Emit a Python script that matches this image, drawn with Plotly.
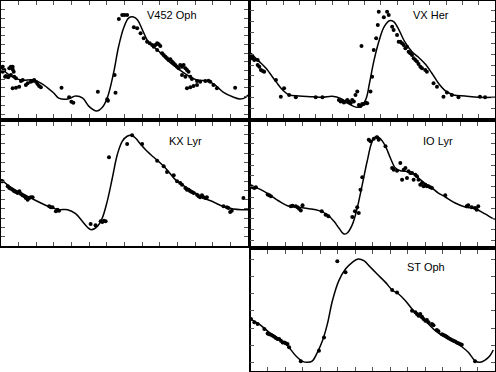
import plotly.graph_objects as go

# phase / relative magnitude, one set per star

# V452 Oph
v452_curve_phase = [0.000, 0.056, 0.113, 0.186, 0.243, 0.299, 0.327, 0.378, 0.423, 0.463, 0.497, 0.542,
                    0.576, 0.604, 0.638, 0.666, 0.695, 0.723, 0.751, 0.774, 0.802, 0.836, 0.887, 0.943,
                    0.999, 1.056, 1.112, 1.174, 1.214, 1.259, 1.316, 1.355, 1.389, 1.400]
v452_curve_mag = [0.771, 0.863, 0.909, 0.909, 0.966, 1.058, 1.116, 1.127, 1.093, 1.116, 1.208, 1.265,
                  1.219, 1.104, 0.828, 0.529, 0.311, 0.196, 0.184, 0.219, 0.334, 0.472, 0.564, 0.679,
                  0.771, 0.851, 0.909, 0.920, 0.966, 1.047, 1.104, 1.127, 1.104, 1.081]
v452_obs_phase = [0.010, 0.019, 0.028, 0.038, 0.047, 0.056, 0.066, 0.072, 0.075, 0.085, 0.010, 0.023,
                  0.041, 0.056, 0.066, 0.066, 0.085, 0.103, 0.113, 0.123, 0.141, 0.151, 0.169, 0.179,
                  0.188, 0.198, 0.207, 0.216, 0.226, 0.343, 0.386, 0.399, 0.410, 0.549, 0.602, 0.606,
                  0.644, 0.649, 0.668, 0.687, 0.700, 0.715, 0.753, 0.772, 0.791, 0.809, 0.828, 0.843,
                  0.857, 0.866, 0.875, 0.885, 0.894, 0.903, 0.885, 0.913, 0.922, 0.932, 0.941, 0.950,
                  0.960, 0.970, 0.979, 0.988, 0.998, 1.007, 1.016, 1.026, 1.035, 1.045, 1.054, 1.063,
                  1.026, 1.045, 1.073, 1.082, 1.111, 1.129, 1.054, 1.073, 1.091, 1.111, 1.158, 1.176,
                  1.186, 1.204, 1.224, 1.327]
v452_obs_mag = [0.756, 0.794, 0.863, 0.871, 0.774, 0.756, 0.785, 0.813, 0.871, 0.889, 0.813, 0.871,
                0.877, 0.851, 0.756, 1.004, 0.997, 0.986, 0.920, 0.909, 0.966, 0.946, 0.928, 0.920,
                0.909, 0.928, 0.955, 0.978, 0.992, 0.997, 1.107, 1.158, 1.170, 1.043, 1.130, 1.147,
                0.851, 1.055, 0.207, 0.161, 0.161, 0.161, 0.302, 0.314, 0.371, 0.429, 0.468, 0.486,
                0.506, 0.526, 0.506, 0.486, 0.498, 0.518, 0.564, 0.601, 0.621, 0.641, 0.659, 0.679,
                0.670, 0.698, 0.716, 0.736, 0.756, 0.774, 0.736, 0.756, 0.736, 0.774, 0.794, 0.813,
                0.851, 0.871, 0.871, 0.897, 0.920, 0.928, 1.004, 0.992, 0.978, 0.966, 0.920, 0.917,
                0.928, 0.966, 1.004, 0.997]

# VX Her
vxher_curve_phase = [0.000, 0.054, 0.095, 0.156, 0.197, 0.237, 0.298, 0.380, 0.441, 0.502, 0.553, 0.604,
                     0.655, 0.685, 0.710, 0.730, 0.756, 0.787, 0.818, 0.852, 0.878, 0.909, 0.946, 0.991,
                     1.031, 1.072, 1.113, 1.153, 1.194, 1.245, 1.316, 1.398, 1.500]
vxher_curve_mag = [0.476, 0.551, 0.612, 0.733, 0.809, 0.854, 0.864, 0.870, 0.876, 0.867, 0.885, 0.936,
                   0.967, 0.955, 0.885, 0.748, 0.551, 0.370, 0.239, 0.179, 0.188, 0.257, 0.370, 0.461,
                   0.512, 0.573, 0.657, 0.748, 0.815, 0.854, 0.864, 0.876, 0.876]
vxher_obs_phase = [0.003, 0.009, 0.023, 0.044, 0.044, 0.054, 0.064, 0.075, 0.084, 0.013, 0.156, 0.186,
                   0.206, 0.237, 0.278, 0.400, 0.441, 0.542, 0.553, 0.563, 0.573, 0.583, 0.594, 0.604,
                   0.614, 0.624, 0.634, 0.644, 0.655, 0.665, 0.675, 0.685, 0.695, 0.706, 0.716, 0.681,
                   0.736, 0.746, 0.756, 0.771, 0.781, 0.787, 0.818, 0.838, 0.848, 0.869, 0.878, 0.899,
                   0.909, 0.919, 0.930, 0.940, 0.950, 0.960, 0.970, 0.980, 0.991, 1.001, 1.011, 1.021,
                   1.031, 1.042, 1.052, 1.072, 1.082, 1.123, 1.144, 1.184, 1.205, 1.235, 1.276, 1.408,
                   1.439]
vxher_obs_mag = [0.491, 0.521, 0.536, 0.536, 0.582, 0.597, 0.627, 0.636, 0.643, 0.506, 0.718, 0.870,
                 0.794, 0.854, 0.876, 0.876, 0.876, 0.900, 0.915, 0.906, 0.924, 0.915, 0.900, 0.915,
                 0.930, 0.900, 0.915, 0.854, 0.824, 0.945, 0.955, 0.936, 0.936, 0.924, 0.930, 0.409,
                 0.824, 0.688, 0.445, 0.339, 0.218, 0.097, 0.148, 0.097, 0.127, 0.234, 0.264, 0.309,
                 0.370, 0.370, 0.385, 0.400, 0.430, 0.415, 0.461, 0.475, 0.491, 0.521, 0.536, 0.551,
                 0.573, 0.597, 0.612, 0.627, 0.643, 0.748, 0.779, 0.870, 0.833, 0.854, 0.876, 0.870,
                 0.876]

# KX Lyr
kxlyr_curve_phase = [0.000, 0.056, 0.113, 0.169, 0.226, 0.282, 0.329, 0.377, 0.423, 0.461, 0.490, 0.512,
                     0.546, 0.574, 0.602, 0.631, 0.659, 0.687, 0.715, 0.738, 0.762, 0.790, 0.828, 0.866,
                     0.903, 0.941, 0.988, 1.026, 1.063, 1.111, 1.158, 1.204, 1.242, 1.280, 1.317, 1.365,
                     1.400]
kxlyr_curve_mag = [0.622, 0.705, 0.766, 0.820, 0.874, 0.921, 0.946, 0.946, 0.989, 1.072, 1.136, 1.162,
                   1.126, 1.036, 0.856, 0.604, 0.353, 0.208, 0.154, 0.144, 0.173, 0.237, 0.316, 0.381,
                   0.442, 0.515, 0.622, 0.676, 0.719, 0.777, 0.828, 0.863, 0.899, 0.921, 0.939, 0.946,
                   0.946]
kxlyr_obs_phase = [0.000, 0.009, 0.038, 0.047, 0.056, 0.066, 0.075, 0.085, 0.094, 0.104, 0.113, 0.122,
                   0.132, 0.141, 0.151, 0.160, 0.169, 0.179, 0.273, 0.282, 0.292, 0.311, 0.320, 0.329,
                   0.508, 0.536, 0.565, 0.574, 0.583, 0.593, 0.612, 0.715, 0.743, 0.800, 0.885, 0.922,
                   0.941, 0.979, 0.998, 1.016, 1.026, 1.045, 1.054, 1.063, 1.073, 1.082, 1.092, 1.111,
                   1.120, 1.129, 1.139, 1.148, 1.158, 1.167, 1.261, 1.280, 1.289, 1.299, 1.308, 1.374]
kxlyr_obs_mag = [0.633, 0.640, 0.694, 0.712, 0.719, 0.730, 0.748, 0.755, 0.766, 0.748, 0.777, 0.791,
                 0.802, 0.820, 0.838, 0.820, 0.813, 0.813, 0.910, 0.921, 0.921, 0.964, 0.946, 0.957,
                 1.101, 1.115, 1.072, 1.079, 1.065, 1.072, 0.381, 0.237, 0.144, 0.237, 0.417, 0.478,
                 0.540, 0.575, 0.640, 0.658, 0.676, 0.712, 0.730, 0.730, 0.748, 0.755, 0.766, 0.784,
                 0.802, 0.813, 0.791, 0.813, 0.820, 0.813, 0.910, 0.921, 0.928, 0.971, 0.957, 0.820]

# IO Lyr
iolyr_curve_phase = [0.000, 0.050, 0.107, 0.164, 0.221, 0.278, 0.335, 0.392, 0.440, 0.478, 0.506, 0.535,
                     0.554, 0.583, 0.611, 0.640, 0.668, 0.697, 0.721, 0.744, 0.773, 0.801, 0.830, 0.858,
                     0.887, 0.925, 0.962, 1.001, 1.039, 1.076, 1.115, 1.172, 1.229, 1.286, 1.343, 1.390,
                     1.400]
iolyr_curve_mag = [0.600, 0.624, 0.677, 0.739, 0.786, 0.795, 0.808, 0.826, 0.864, 0.926, 0.988, 1.044,
                   1.035, 0.957, 0.802, 0.584, 0.366, 0.180, 0.133, 0.156, 0.226, 0.336, 0.429, 0.454,
                   0.459, 0.475, 0.522, 0.575, 0.615, 0.662, 0.699, 0.755, 0.792, 0.808, 0.857, 0.901,
                   0.905]
iolyr_obs_phase = [0.003, 0.012, 0.022, 0.031, 0.098, 0.107, 0.117, 0.231, 0.241, 0.259, 0.269, 0.278,
                   0.288, 0.298, 0.408, 0.430, 0.446, 0.583, 0.598, 0.611, 0.620, 0.630, 0.640, 0.677,
                   0.687, 0.706, 0.725, 0.734, 0.773, 0.811, 0.820, 0.839, 0.858, 0.868, 0.877, 0.887,
                   0.896, 0.905, 0.915, 0.925, 0.934, 0.944, 0.953, 0.962, 0.972, 0.982, 0.991, 1.001,
                   1.010, 1.019, 1.029, 1.039, 1.115, 1.238, 1.247, 1.267, 1.286, 1.295, 1.304]
iolyr_obs_mag = [0.600, 0.609, 0.615, 0.609, 0.677, 0.684, 0.693, 0.786, 0.780, 0.786, 0.795, 0.808,
                 0.826, 0.777, 0.833, 0.864, 0.879, 0.885, 0.833, 0.795, 0.848, 0.631, 0.516, 0.165,
                 0.180, 0.156, 0.143, 0.165, 0.226, 0.429, 0.445, 0.454, 0.382, 0.538, 0.445, 0.429,
                 0.522, 0.459, 0.475, 0.475, 0.538, 0.491, 0.506, 0.538, 0.584, 0.569, 0.600, 0.584,
                 0.600, 0.600, 0.609, 0.615, 0.684, 0.786, 0.777, 0.795, 0.802, 0.817, 0.786]

# ST Oph
stoph_curve_phase = [0.000, 0.050, 0.107, 0.164, 0.212, 0.259, 0.298, 0.326, 0.355, 0.383, 0.412, 0.440,
                     0.469, 0.506, 0.544, 0.583, 0.617, 0.649, 0.687, 0.725, 0.773, 0.811, 0.848, 0.887,
                     0.925, 0.962, 1.010, 1.058, 1.115, 1.162, 1.210, 1.247, 1.286, 1.314, 1.343, 1.371,
                     1.390]
stoph_curve_mag = [0.399, 0.428, 0.476, 0.514, 0.553, 0.611, 0.643, 0.649, 0.640, 0.591, 0.524, 0.428,
                   0.293, 0.177, 0.110, 0.071, 0.052, 0.062, 0.100, 0.139, 0.187, 0.231, 0.254, 0.293,
                   0.341, 0.380, 0.418, 0.466, 0.505, 0.528, 0.559, 0.591, 0.640, 0.649, 0.636, 0.611,
                   0.578]
stoph_obs_phase = [0.003, 0.022, 0.041, 0.079, 0.098, 0.107, 0.117, 0.127, 0.136, 0.145, 0.155, 0.164,
                   0.174, 0.184, 0.193, 0.202, 0.212, 0.221, 0.288, 0.392, 0.421, 0.497, 0.544, 0.811,
                   0.839, 0.925, 0.944, 0.953, 0.962, 0.972, 0.982, 0.991, 1.001, 1.010, 1.019, 1.039,
                   1.048, 1.067, 1.076, 1.096, 1.105, 1.115, 1.124, 1.133, 1.143, 1.153, 1.162, 1.172,
                   1.181, 1.190, 1.200, 1.210, 1.286]
stoph_obs_mag = [0.399, 0.418, 0.428, 0.457, 0.482, 0.486, 0.489, 0.495, 0.501, 0.509, 0.514, 0.514,
                 0.524, 0.534, 0.534, 0.539, 0.543, 0.562, 0.643, 0.582, 0.505, 0.065, 0.129, 0.231,
                 0.245, 0.351, 0.360, 0.370, 0.380, 0.370, 0.386, 0.399, 0.409, 0.405, 0.418, 0.428,
                 0.434, 0.462, 0.470, 0.486, 0.491, 0.495, 0.501, 0.509, 0.514, 0.520, 0.524, 0.528,
                 0.534, 0.539, 0.543, 0.547, 0.643]

stars = ["V452 Oph", "VX Her", "KX Lyr", "IO Lyr", "ST Oph"]


def add_panel(fig, n, curve_x, curve_y, obs_x, obs_y):
	xa = 'x' if n == 1 else 'x%d' % n
	ya = 'y' if n == 1 else 'y%d' % n
	fig.add_trace(go.Scatter(x=curve_x, y=curve_y, mode='lines', xaxis=xa, yaxis=ya,
		line=dict(color='black', width=1.5, shape='spline', smoothing=1.0), showlegend=False))
	fig.add_trace(go.Scatter(x=obs_x, y=obs_y, mode='markers', xaxis=xa, yaxis=ya,
		marker=dict(color='black', size=4), showlegend=False))


fig = go.Figure()
add_panel(fig, 1, v452_curve_phase, v452_curve_mag, v452_obs_phase, v452_obs_mag)
add_panel(fig, 2, vxher_curve_phase, vxher_curve_mag, vxher_obs_phase, vxher_obs_mag)
add_panel(fig, 3, kxlyr_curve_phase, kxlyr_curve_mag, kxlyr_obs_phase, kxlyr_obs_mag)
add_panel(fig, 4, iolyr_curve_phase, iolyr_curve_mag, iolyr_obs_phase, iolyr_obs_mag)
add_panel(fig, 5, stoph_curve_phase, stoph_curve_mag, stoph_obs_phase, stoph_obs_mag)

W, H = 496, 372
# panel boxes in pixels: left, right, top, bottom
boxes = [(1, 248, 1, 118), (250.5, 495, 1, 118),
         (1, 248, 122, 246), (250.5, 495, 122, 246),
         (250.5, 495, 250, 371)]
xranges = [[0, 1.4], [0, 1.5], [0, 1.4], [0, 1.4], [0, 1.4]]
yranges = [[1.345, 0], [1.064, 0], [1.338, 0], [1.156, 0], [0.699, 0]]
ytick0 = [0, 0.082, 0.037, 0.003, 0.052]

axis_style = dict(showline=True, linecolor='black', linewidth=1.5, mirror='ticks',
	ticks='inside', ticklen=4, tickwidth=1, tickcolor='#555555',
	showticklabels=False, showgrid=False, zeroline=False, dtick=0.1)

layout = {}
for i, (l, r, t, b) in enumerate(boxes):
	suffix = '' if i == 0 else str(i + 1)
	anchor = str(i + 1) if i else ''
	layout['xaxis' + suffix] = dict(axis_style, domain=[l / W, r / W], range=xranges[i],
		tick0=0, anchor='y' + anchor)
	layout['yaxis' + suffix] = dict(axis_style, domain=[1 - b / H, 1 - t / H], range=yranges[i],
		tick0=ytick0[i], anchor='x' + anchor)
fig.update_layout(**layout)

# star names
label_pos = [(172, 15), (431, 15), (185, 141), (438, 141), (426, 267)]
for name, (px, py) in zip(stars, label_pos):
	fig.add_annotation(text=name, x=px / W, y=1 - py / H, xref='paper', yref='paper',
		showarrow=False, xanchor='center', yanchor='middle',
		font=dict(family='Liberation Sans, Arial', size=11, color='black'))

fig.update_layout(width=W, height=H, margin=dict(l=0, r=0, t=0, b=0),
	plot_bgcolor='white', paper_bgcolor='white')

# page body has a default 8px margin, drop it so the figure sits at the corner
fig.write_html("out.html", config={'displayModeBar': False},
	post_script="document.body.style.margin='0';")
